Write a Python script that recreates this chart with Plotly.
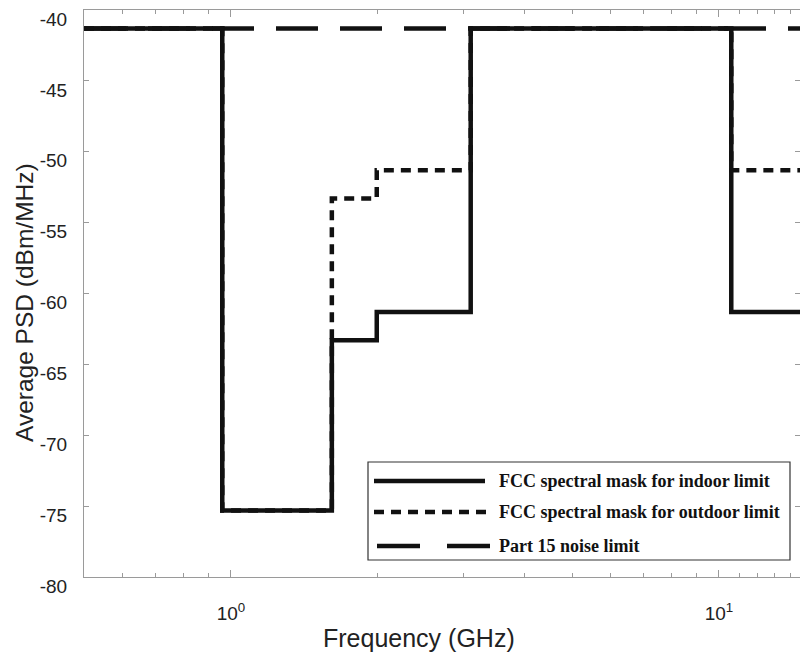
import plotly.graph_objects as go
import math

# ---- data ----
freq_edges = [0.5, 0.96, 1.61, 1.99, 3.1, 10.6, 14.66]
indoor_psd = [-41.3, -75.3, -63.3, -61.3, -41.3, -61.3, -61.3]
outdoor_psd = [-41.3, -75.3, -53.3, -51.3, -41.3, -51.3, -51.3]
noise_freq = [0.5, 14.66]
noise_psd = [-41.3, -41.3]
legend_labels = ["FCC spectral mask for indoor limit",
                 "FCC spectral mask for outdoor limit",
                 "Part 15 noise limit"]
y_ticks = [-80, -75, -70, -65, -60, -55, -50, -45, -40]
y_tick_text = [str(v) for v in y_ticks]
x_major = [1, 10]
x_major_text = ["10<sup>0</sup>", "10<sup>1</sup>"]
x_minor = [0.5, 0.6, 0.7, 0.8, 0.9, 2, 3, 4, 5, 6, 7, 8, 9, 11, 12, 13, 14]
x_title = "Frequency (GHz)"
y_title = "Average PSD (dBm/MHz)"

INK = "#111111"
AX = "#9a9a9a"
TXT = "#222222"

fig = go.Figure()
fig.add_trace(go.Scatter(x=noise_freq, y=noise_psd, mode="lines",
                         line=dict(color=INK, width=4.5, dash="42px,22px"),
                         showlegend=False))
fig.add_trace(go.Scatter(x=freq_edges, y=outdoor_psd, mode="lines", line_shape="hv",
                         line=dict(color=INK, width=4.5, dash="10px,7px"),
                         showlegend=False))
fig.add_trace(go.Scatter(x=freq_edges, y=indoor_psd, mode="lines", line_shape="hv",
                         line=dict(color=INK, width=4.5),
                         showlegend=False))

L, R, T, B = 84, 0, 10, 80
W, H = 800, 657
pw, ph = W - L - R, H - T - B

def px(x):
    return (x - L) / pw

def py(y):
    return (H - B - y) / ph

# custom legend box
fig.add_shape(type="rect", xref="paper", yref="paper",
              x0=px(368), x1=px(790), y0=py(560), y1=py(462),
              line=dict(color="#333", width=1.2), fillcolor="white", layer="above")
fig.add_shape(type="line", xref="paper", yref="paper", x0=px(374), x1=px(485),
              y0=py(481), y1=py(481), line=dict(color=INK, width=4.5), layer="above")
fig.add_shape(type="line", xref="paper", yref="paper", x0=px(374), x1=px(487),
              y0=py(512), y1=py(512), line=dict(color=INK, width=4.5, dash="10px,7px"), layer="above")
fig.add_shape(type="line", xref="paper", yref="paper", x0=px(377), x1=px(490),
              y0=py(546), y1=py(546), line=dict(color=INK, width=4.5, dash="43px,27px"), layer="above")
for lab, yy in zip(legend_labels, [481, 512, 546]):
    fig.add_annotation(text="<b>" + lab + "</b>", xref="paper", yref="paper",
                       x=px(497), y=py(yy), xanchor="left", yanchor="middle",
                       showarrow=False,
                       font=dict(family="Liberation Serif", size=18, color=INK))

# axis titles
fig.add_annotation(text=x_title, xref="paper", yref="paper",
                   x=px(419), y=py(638), xanchor="center", yanchor="middle",
                   showarrow=False, font=dict(size=25, color=TXT))
fig.add_annotation(text=y_title, xref="paper", yref="paper",
                   x=px(24), y=py(303), xanchor="center", yanchor="middle",
                   textangle=-90, showarrow=False, font=dict(size=24.5, color=TXT))

fig.update_layout(
    width=W, height=H,
    margin=dict(l=L, r=R, t=T, b=B, autoexpand=False),
    plot_bgcolor="white", paper_bgcolor="white",
    font=dict(family="Liberation Sans", size=16, color=TXT),
    showlegend=False,
)
fig.update_xaxes(
    type="log", range=[math.log10(0.5), math.log10(14.66)],
    tickmode="array", tickvals=x_major, ticktext=x_major_text,
    ticks="inside", ticklen=7, tickcolor=AX, tickwidth=1,
    minor=dict(tickmode="array", tickvals=x_minor, ticks="inside", ticklen=4,
               tickcolor=AX, tickwidth=1, showgrid=False),
    showline=True, linecolor=AX, linewidth=1, mirror="allticks",
    showgrid=False, zeroline=False, automargin=False,
    tickfont=dict(size=19, color=TXT), ticklabelstandoff=19,
)
fig.update_yaxes(
    range=[-80, -40], tickmode="array", tickvals=y_ticks, ticktext=y_tick_text,
    ticks="inside", ticklen=5, tickcolor=AX, tickwidth=1,
    showline=True, linecolor=AX, linewidth=1, mirror="allticks",
    showgrid=False, zeroline=False, automargin=False,
    tickfont=dict(size=19, color=TXT), ticklabelstandoff=12, ticklabelshift=9,
    ticklabeloverflow="allow",
)

fig.write_html("out.html")
